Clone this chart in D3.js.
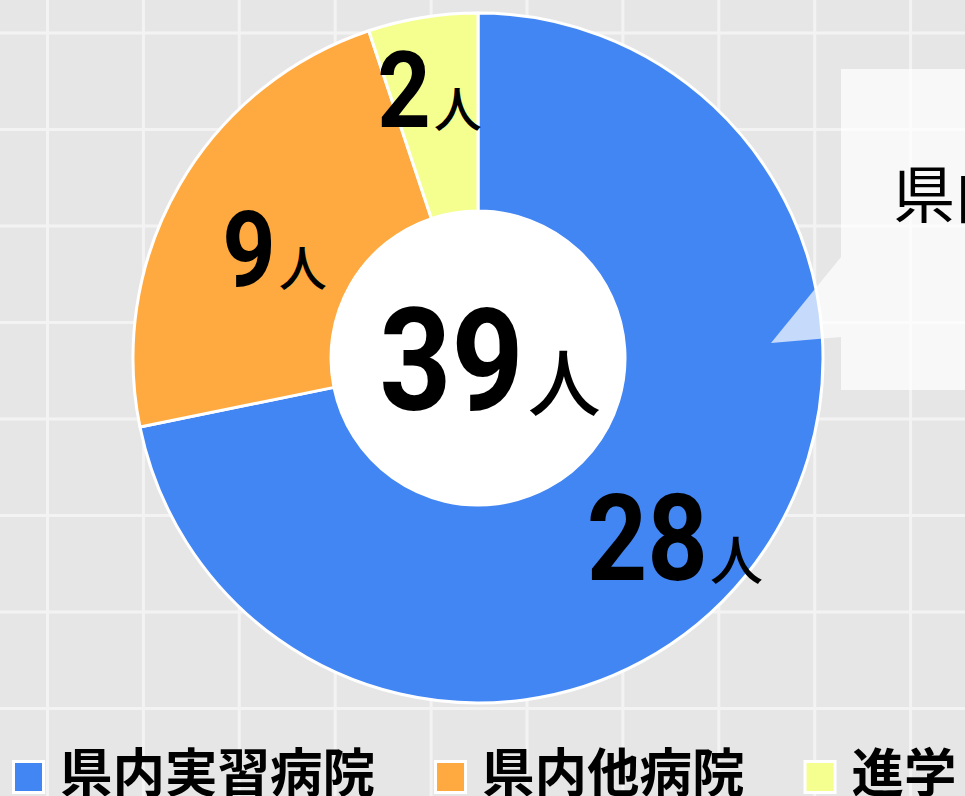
<!DOCTYPE html>
<html>
<head>
<meta charset="utf-8">
<script src="https://cdn.jsdelivr.net/npm/d3@7/dist/d3.min.js"></script>
<style>
  html, body { margin: 0; padding: 0; overflow: hidden; background: #e6e6e6; }
  svg { display: block; }
</style>
</head>
<body>
<svg id="chart" width="965" height="796"></svg>
<script>
// ---- data ----
const categories = ["県内実習病院", "県内他病院", "進学"];
const values = [28, 9, 2];
const unit = "人";
const tooltipCategory = "県内実習病院";

// ---- layout / style ----
const W = 965, H = 796;
const cx = 478, cy = 358;
const rOuter = 345, rInner = 147;
const colors = d3.scaleOrdinal().domain(categories).range(["#4286F4", "#FFAA40", "#F4FF90"]);
const numFont = "Roboto, 'Noto Sans CJK JP', sans-serif";
const cjkFont = "'Noto Sans CJK JP', sans-serif";
const numSquash = 0.88;

const svg = d3.select("#chart");

// background grid
svg.append("rect").attr("width", W).attr("height", H).attr("fill", "#e6e6e6");
const grid = svg.append("g").attr("stroke", "#f3f3f3").attr("stroke-width", 3);
grid.selectAll("line.v").data(d3.range(47.5, W, 95.9)).join("line")
  .attr("x1", d => d).attr("x2", d => d).attr("y1", 0).attr("y2", H);
grid.selectAll("line.h").data(d3.range(33, H, 96.5)).join("line")
  .attr("x1", 0).attr("x2", W).attr("y1", d => d).attr("y2", d => d);

// donut
const pie = d3.pie().sort(null).value(d => d.value);
const data = categories.map((c, i) => ({ cat: c, value: values[i] }));
const arcs = pie(data);
const arc = d3.arc().innerRadius(rInner).outerRadius(rOuter);

const g = svg.append("g").attr("transform", `translate(${cx},${cy})`);
g.append("circle").attr("r", rInner).attr("fill", "#fff");
g.selectAll("path.slice").data(arcs).join("path")
  .attr("class", "slice")
  .attr("d", arc)
  .attr("fill", d => colors(d.data.cat))
  .attr("stroke", "#fff").attr("stroke-width", 3).attr("stroke-linejoin", "round");

// number + unit label, centred on (x, baseline y)
function valueLabel(parent, x, y, num, numSize, unitSize, gap) {
  const grp = parent.append("g");
  const inner = grp.append("g");
  const n = inner.append("text")
    .attr("font-family", numFont).attr("font-weight", 700).attr("font-size", numSize)
    .attr("fill", "#000").attr("transform", `scale(${numSquash},1)`).text(num);
  const nw = n.node().getComputedTextLength() * numSquash;
  const u = inner.append("text").attr("x", nw + gap)
    .attr("font-family", cjkFont).attr("font-weight", 500).attr("font-size", unitSize)
    .attr("fill", "#000").text(unit);
  const total = nw + gap + u.node().getComputedTextLength();
  inner.attr("transform", `translate(${-total / 2},0)`);
  grp.attr("transform", `translate(${x},${y})`);
  return grp;
}

// slice labels
const maxV = d3.max(values);
const labelR = 258;
const nudge = [[-3, 59], [20, 57], [-7, 24]];
arcs.forEach((d, i) => {
  const a = (d.startAngle + d.endAngle) / 2;
  const x = Math.sin(a) * labelR + nudge[i][0];
  const y = -Math.cos(a) * labelR + nudge[i][1];
  const big = d.value === maxV;
  valueLabel(g, x, y, d.value, big ? 120 : 106, big ? 53 : 48, big ? 2 : 3);
});

// centre total
valueLabel(g, 12, 52, d3.sum(values), 143, 73, 4);

// tooltip (partially outside the view)
const tip = svg.append("g");
tip.append("path")
  .attr("d", d3.line()([[841, 257], [771, 343], [841, 337]]) + "Z")
  .attr("fill", "rgba(255,255,255,0.7)");
tip.append("rect").attr("x", 841).attr("y", 69).attr("width", 400).attr("height", 321)
  .attr("fill", "rgba(255,255,255,0.7)");
tip.append("text").attr("x", 893).attr("y", 218)
  .attr("font-family", cjkFont).attr("font-size", 62).attr("fill", "#000")
  .text(tooltipCategory);

// legend
const legend = svg.append("g");
let lx = 12;
categories.forEach((c, i) => {
  const item = legend.append("g").attr("transform", `translate(${lx},0)`);
  item.append("rect").attr("x", 1.5).attr("y", 761.5).attr("width", 30).attr("height", 31)
    .attr("fill", colors(c)).attr("stroke", "#fff").attr("stroke-width", 3);
  const t = item.append("text").attr("x", 48).attr("y", 792)
    .attr("font-family", cjkFont).attr("font-weight", 700).attr("font-size", 52.5)
    .attr("fill", "#000").text(c);
  lx += 48 + t.node().getComputedTextLength() + 59;
});
</script>
</body>
</html>
